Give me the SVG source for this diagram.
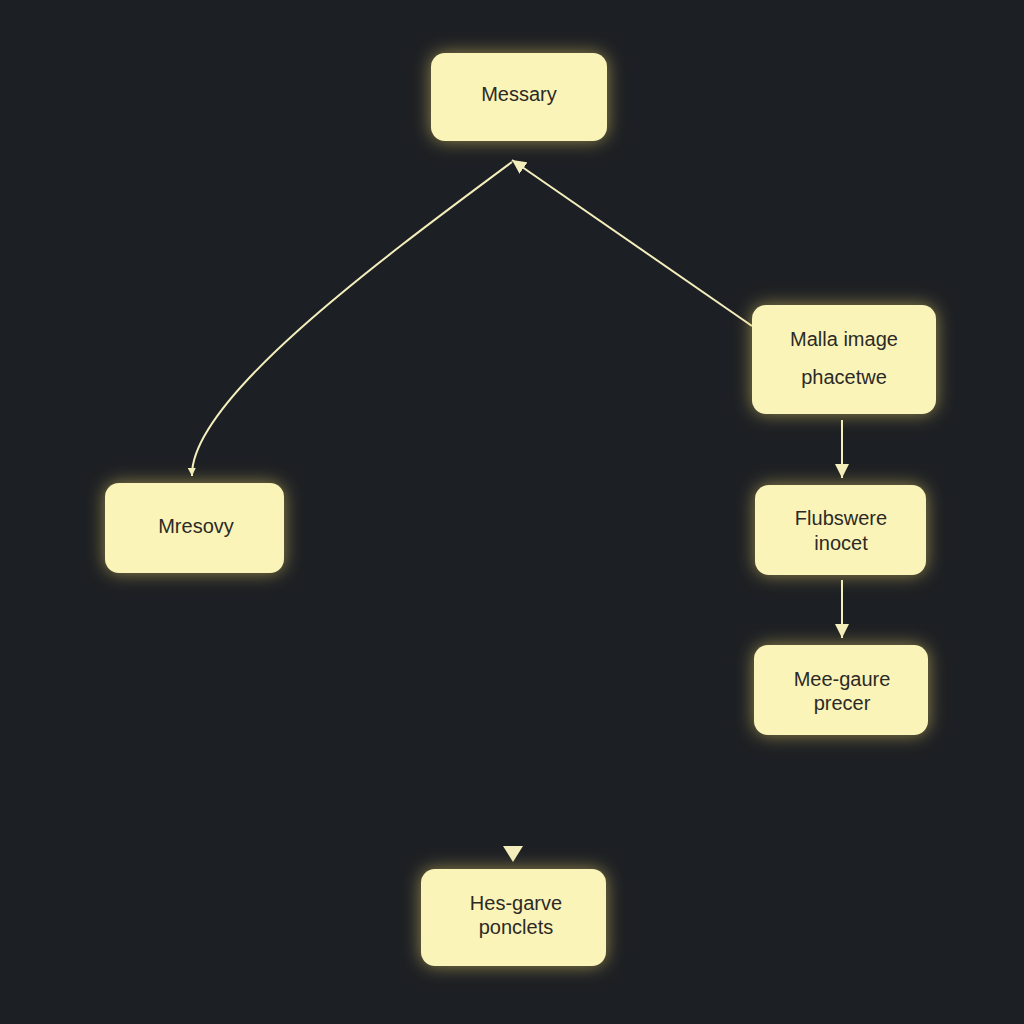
<svg xmlns="http://www.w3.org/2000/svg" width="1024" height="1024" viewBox="0 0 1024 1024">
<defs>
<filter id="glow" x="-30%" y="-30%" width="160%" height="160%">
<feGaussianBlur in="SourceAlpha" stdDeviation="9" result="b"/>
<feFlood flood-color="#f5d96a" flood-opacity="0.55"/>
<feComposite in2="b" operator="in" result="g"/>
<feMerge><feMergeNode in="g"/><feMergeNode in="SourceGraphic"/></feMerge>
</filter>
<marker id="ah" viewBox="0 0 10 10" refX="10" refY="5" markerWidth="8" markerHeight="8" orient="auto-start-reverse" markerUnits="userSpaceOnUse">
<path d="M0,0 L10,5 L0,10 Z" fill="#f3eebc"/>
</marker>
<marker id="ah2" viewBox="0 0 10 10" refX="10" refY="5" markerWidth="14" markerHeight="14" orient="auto" markerUnits="userSpaceOnUse">
<path d="M0,0 L10,5 L0,10 Z" fill="#f3eebc"/>
</marker>
</defs>
<style>
.n{fill:#fbf4b8;filter:url(#glow)}
.t{font-family:"Liberation Sans",Arial,sans-serif;font-size:20px;fill:#2b2a26;text-anchor:middle}
.c{stroke:#f3eebc;stroke-width:2;fill:none}
</style>
<rect width="1024" height="1024" fill="#1c1f23"/>
<g id="connectors">
<path class="c" d="M752,326 L512,160" marker-end="url(#ah2)"/>
<path class="c" d="M512,162 C380,260 190,400 192,476" marker-end="url(#ah)"/>
<path class="c" d="M842,420 L842,478" marker-end="url(#ah2)"/>
<path class="c" d="M842,580 L842,638" marker-end="url(#ah2)"/>
<path d="M503,846 L523,846 L513,862 Z" fill="#f3eebc"/>
</g>
<g id="messary"><rect class="n" x="431" y="53" width="176" height="88" rx="14"/><text class="t" x="519" y="101">Messary</text></g>
<g id="malla"><rect class="n" x="752" y="305" width="184" height="109" rx="14"/><text class="t" x="844" y="346">Malla image</text><text class="t" x="844" y="384">phacetwe</text></g>
<g id="mresovy"><rect class="n" x="105" y="483" width="179" height="90" rx="14"/><text class="t" x="196" y="533">Mresovy</text></g>
<g id="flubswere"><rect class="n" x="755" y="485" width="171" height="90" rx="14"/><text class="t" x="841" y="525">Flubswere</text><text class="t" x="841" y="550">inocet</text></g>
<g id="meegaure"><rect class="n" x="754" y="645" width="174" height="90" rx="14"/><text class="t" x="842" y="686">Mee-gaure</text><text class="t" x="842" y="710">precer</text></g>
<g id="hesgarve"><rect class="n" x="421" y="869" width="185" height="97" rx="14"/><text class="t" x="516" y="910">Hes-garve</text><text class="t" x="516" y="934">ponclets</text></g>
</svg>
